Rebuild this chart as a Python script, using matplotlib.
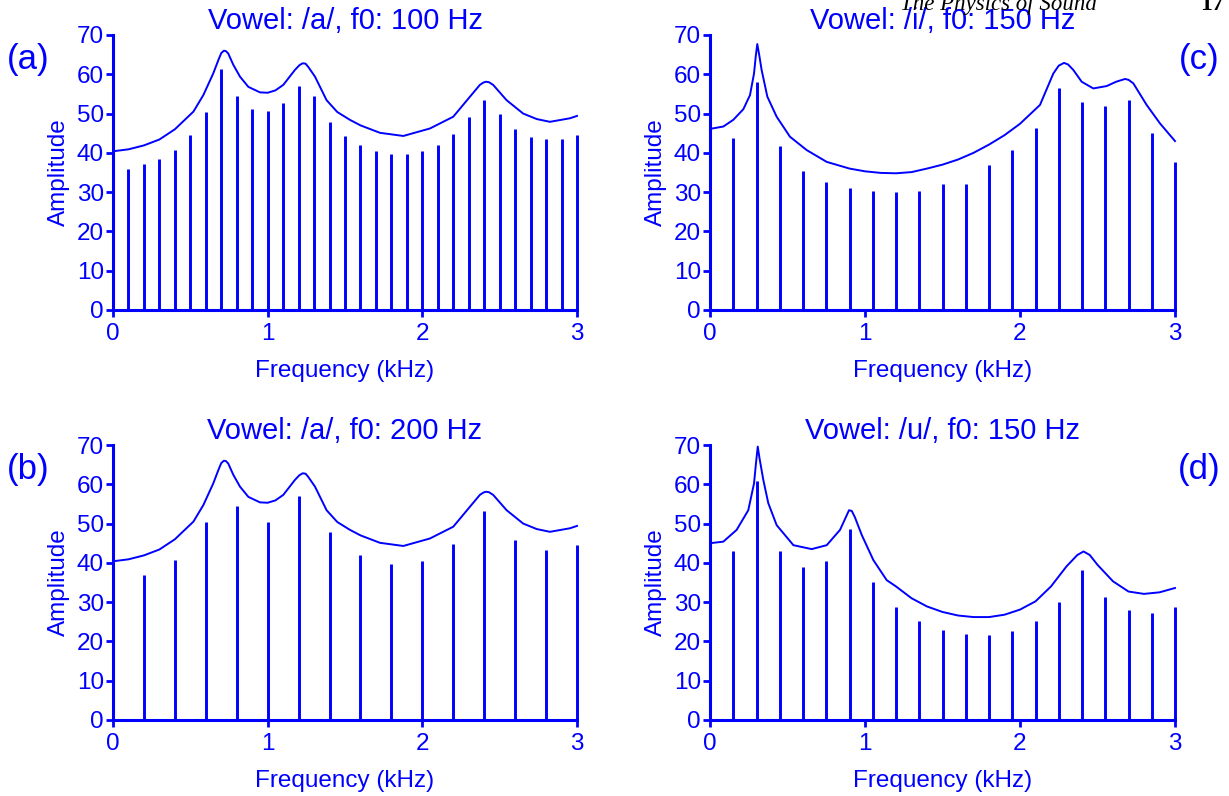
import matplotlib
matplotlib.use("Agg")
import matplotlib.pyplot as plt

BLUE = "#0000ff"
plt.rcParams['font.family'] = ['Liberation Sans', 'DejaVu Sans']

# ---- harmonic amplitudes ----
a100_freq = [0.1, 0.2, 0.3, 0.4, 0.5, 0.6, 0.7, 0.8, 0.9, 1.0, 1.1, 1.2, 1.3, 1.4, 1.5,
             1.6, 1.7, 1.8, 1.9, 2.0, 2.1, 2.2, 2.3, 2.4, 2.5, 2.6, 2.7, 2.8, 2.9, 3.0]
a100_amp = [36.0, 37.1, 38.5, 40.8, 44.6, 50.3, 61.3, 54.4, 51.1, 50.6, 52.6, 57.1, 54.4, 47.9, 44.3,
            41.9, 40.5, 39.8, 39.8, 40.5, 42.1, 44.8, 49.1, 53.5, 49.8, 46.1, 44.1, 43.5, 43.6, 44.6]

a200_freq = [0.2, 0.4, 0.6, 0.8, 1.0, 1.2, 1.4, 1.6, 1.8, 2.0, 2.2, 2.4, 2.6, 2.8, 3.0]
a200_amp = [36.9, 40.8, 50.3, 54.4, 50.4, 57.1, 47.9, 41.9, 39.6, 40.4, 44.8, 53.3, 45.8, 43.4, 44.5]

i150_freq = [0.15, 0.3, 0.45, 0.6, 0.75, 0.9, 1.05, 1.2, 1.35, 1.5, 1.65, 1.8, 1.95, 2.1, 2.25,
             2.4, 2.55, 2.7, 2.85, 3.0]
i150_amp = [43.8, 58.1, 41.7, 35.5, 32.7, 31.1, 30.3, 30.0, 30.4, 32.0, 32.0, 37.0, 40.6, 46.3, 56.4,
            53.0, 51.8, 53.4, 45.0, 37.7]

u150_freq = [0.15, 0.3, 0.45, 0.6, 0.75, 0.9, 1.05, 1.2, 1.35, 1.5, 1.65, 1.8, 1.95, 2.1, 2.25,
             2.4, 2.55, 2.7, 2.85, 3.0]
u150_amp = [42.9, 60.8, 42.9, 38.9, 40.6, 48.5, 35.1, 28.8, 25.3, 22.9, 21.9, 21.6, 22.6, 25.1, 30.1,
            38.1, 31.3, 27.9, 27.2, 28.8]

# ---- spectral envelopes ----
a_env_f = [0.0, 0.1, 0.2, 0.3, 0.4, 0.52, 0.584, 0.648, 0.681, 0.70, 0.717, 0.73, 0.745, 0.778,
           0.821, 0.875, 0.95, 1.0, 1.05, 1.101, 1.176, 1.205, 1.226, 1.245, 1.262, 1.306, 1.381,
           1.45, 1.532, 1.6, 1.726, 1.877, 2.049, 2.2, 2.308, 2.372, 2.395, 2.411, 2.43, 2.458,
           2.545, 2.652, 2.74, 2.825, 2.954, 3.0]
a_env_a = [40.4, 40.9, 41.9, 43.4, 46.0, 50.5, 54.7, 60.2, 63.6, 65.4, 66.0, 65.9, 65.3, 62.4,
           59.4, 56.8, 55.4, 55.3, 55.9, 57.3, 61.1, 62.3, 62.8, 62.7, 61.9, 59.4, 53.4,
           50.4, 48.4, 47.0, 45.1, 44.3, 46.2, 49.2, 54.3, 57.3, 57.9, 58.1, 58.0, 57.3,
           53.4, 50.0, 48.6, 47.9, 48.8, 49.4]

i_env_f = [0.0, 0.086, 0.15, 0.215, 0.258, 0.284, 0.295, 0.305, 0.318, 0.333, 0.37, 0.43, 0.516,
           0.624, 0.753, 0.9, 1.0, 1.1, 1.2, 1.3, 1.4, 1.5, 1.6, 1.7, 1.8, 1.9, 2.0, 2.129,
           2.215, 2.25, 2.284, 2.31, 2.344, 2.398, 2.473, 2.559, 2.62, 2.677, 2.70, 2.731,
           2.817, 2.903, 3.0]
i_env_a = [46.1, 46.7, 48.4, 51.1, 54.7, 60.2, 64.5, 67.7, 64.8, 61.1, 54.3, 49.2, 44.1,
           40.7, 37.7, 36.0, 35.3, 34.9, 34.8, 35.1, 36.0, 37.0, 38.3, 40.0, 42.1, 44.5, 47.4, 52.2,
           60.2, 62.2, 62.9, 62.5, 61.1, 58.1, 56.4, 57.0, 58.1, 58.8, 58.6, 57.7,
           52.2, 47.5, 43.0]

u_env_f = [0.0, 0.086, 0.172, 0.247, 0.284, 0.297, 0.308, 0.32, 0.344, 0.376, 0.43, 0.538,
           0.656, 0.753, 0.839, 0.875, 0.897, 0.915, 0.935, 0.979, 1.054, 1.14, 1.2, 1.3, 1.4,
           1.5, 1.6, 1.7, 1.8, 1.9, 2.0, 2.1, 2.2, 2.3, 2.37, 2.41, 2.45, 2.5, 2.6, 2.7, 2.8,
           2.9, 3.0]
u_env_a = [45.0, 45.4, 48.4, 53.4, 60.2, 65.5, 69.6, 66.5, 61.1, 55.2, 49.6, 44.5,
           43.5, 44.5, 48.4, 51.5, 53.4, 53.2, 51.6, 47.1, 40.7, 35.6, 34.0, 31.0, 28.9,
           27.5, 26.6, 26.2, 26.2, 26.8, 28.1, 30.2, 34.0, 39.1, 42.0, 42.9, 42.0, 39.5, 35.3,
           32.7, 32.1, 32.5, 33.6]

titles = ["Vowel: /a/, f0: 100 Hz", "Vowel: /a/, f0: 200 Hz",
          "Vowel: /i/, f0: 150 Hz", "Vowel: /u/, f0: 150 Hz"]
panel_labels = ["(a)", "(b)", "(c)", "(d)"]
x_ticks = [0, 1, 2, 3]
y_ticks = [0, 10, 20, 30, 40, 50, 60, 70]

W, H = 1229, 796
fig = plt.figure(figsize=(W / 100, H / 100), dpi=100)

panels = [
    dict(px=(113, 577), py=(35, 310), hf=a100_freq, ha=a100_amp, ef=a_env_f, ea=a_env_a,
         title=titles[0], label=panel_labels[0], lab_xy=(28, 60)),
    dict(px=(113, 577), py=(445, 720), hf=a200_freq, ha=a200_amp, ef=a_env_f, ea=a_env_a,
         title=titles[1], label=panel_labels[1], lab_xy=(28, 470)),
    dict(px=(710, 1175), py=(35, 310), hf=i150_freq, ha=i150_amp, ef=i_env_f, ea=i_env_a,
         title=titles[2], label=panel_labels[2], lab_xy=(1199, 60)),
    dict(px=(710, 1175), py=(445, 720), hf=u150_freq, ha=u150_amp, ef=u_env_f, ea=u_env_a,
         title=titles[3], label=panel_labels[3], lab_xy=(1199, 470)),
]

for p in panels:
    x0, x1 = p["px"]
    ytop, ybot = p["py"]
    ax = fig.add_axes([x0 / W, 1 - ybot / H, (x1 - x0) / W, (ybot - ytop) / H])
    ax.vlines(p["hf"], 0, p["ha"], color=BLUE, lw=2.1, clip_on=False)
    ax.plot(p["ef"], p["ea"], color=BLUE, lw=1.4, clip_on=False,
            solid_joinstyle="round")
    ax.set_xlim(0, 3)
    ax.set_ylim(0, 70)
    ax.set_xticks(x_ticks)
    ax.set_yticks(y_ticks)
    for s in ["top", "right"]:
        ax.spines[s].set_visible(False)
    for s in ["left", "bottom"]:
        ax.spines[s].set_color(BLUE)
        ax.spines[s].set_linewidth(2.2)
    ax.tick_params(colors=BLUE, labelcolor=BLUE, labelsize=17.5, width=2, length=5,
                   direction="out")
    ax.tick_params(axis="x", pad=4)
    ax.tick_params(axis="y", pad=1.5)
    ax.set_xlabel("Frequency (kHz)", color=BLUE, fontsize=17.5, labelpad=11)
    ax.set_ylabel("Amplitude", color=BLUE, fontsize=17.5, labelpad=5)
    ax.set_title(p["title"], color=BLUE, fontsize=21, pad=2)
    ax.patch.set_alpha(0)
    lx, ly = p["lab_xy"]
    fig.text(lx / W, 1 - ly / H, p["label"], color=BLUE, fontsize=25,
             ha="center", va="center")

# clipped running header from the book page
fig.text(900 / W, 1 - 10 / H, "The Physics of Sound", family="Liberation Serif",
         style="italic", fontsize=16.5, color="black", ha="left", va="baseline")
fig.text(1200 / W, 1 - 10 / H, "17", family="Liberation Serif", weight="bold",
         fontsize=17, color="black", ha="left", va="baseline")

fig.savefig("out.png", dpi=100)
